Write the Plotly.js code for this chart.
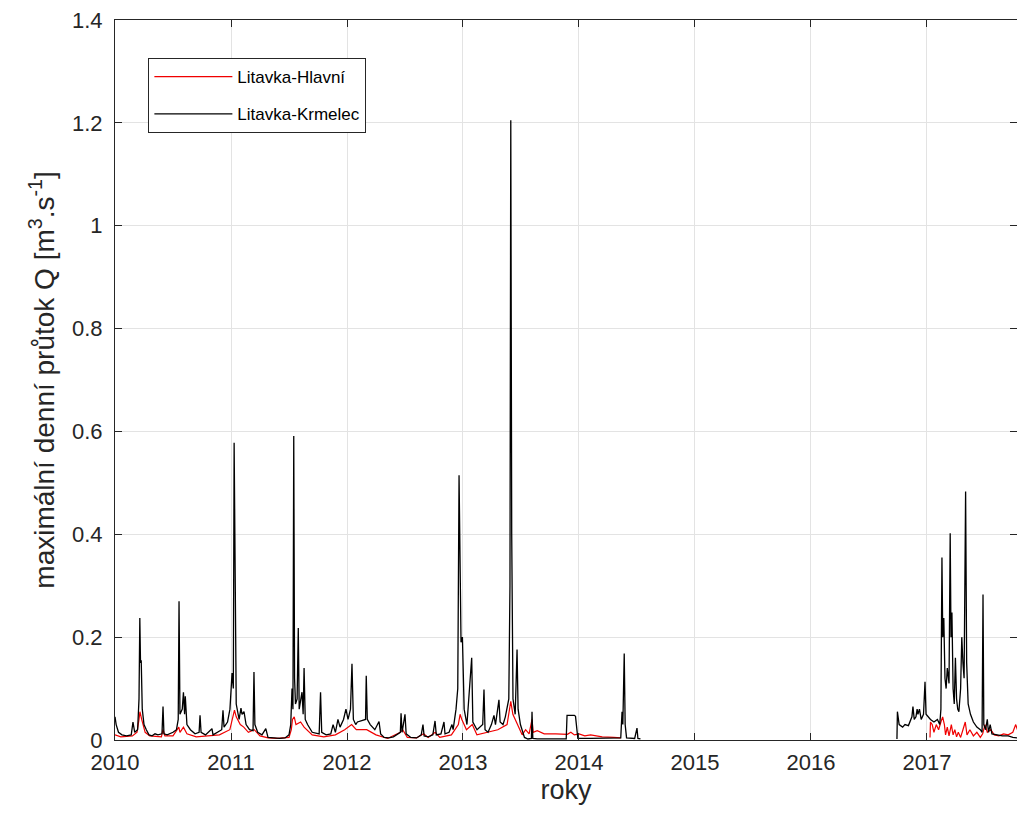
<!DOCTYPE html>
<html>
<head>
<meta charset="utf-8">
<script src="https://cdn.plot.ly/plotly-3.0.1.min.js"></script>
<style>
  html, body { margin: 0; padding: 0; background: #ffffff; }
  #chart { width: 1017px; height: 826px; }
</style>
</head>
<body>
<div id="chart"></div>
<script>
// Maximální denní průtok – Litavka, stanice Krmelec a Hlavní (rok jako desetinné číslo)

// Litavka-Krmelec
const krmelecYear = [
  2010.000, 2010.010, 2010.030, 2010.060, 2010.100, 2010.140, 2010.155, 2010.170, 2010.195, 2010.207,
  2010.214, 2010.220, 2010.226, 2010.235, 2010.250, 2010.270, 2010.293, 2010.320, 2010.345, 2010.370,
  2010.405, 2010.414, 2010.422, 2010.450, 2010.500, 2010.530, 2010.545, 2010.552, 2010.560, 2010.580,
  2010.590, 2010.600, 2010.606, 2010.620, 2010.650, 2010.690, 2010.725, 2010.733, 2010.742, 2010.780,
  2010.836, 2010.845, 2010.880, 2010.920, 2010.931, 2010.940, 2010.970, 2010.991, 2011.009, 2011.020,
  2011.027, 2011.034, 2011.045, 2011.070, 2011.086, 2011.095, 2011.112, 2011.130, 2011.160, 2011.190,
  2011.198, 2011.206, 2011.230, 2011.267, 2011.300, 2011.319, 2011.360, 2011.420, 2011.466, 2011.500,
  2011.515, 2011.526, 2011.534, 2011.541, 2011.548, 2011.556, 2011.570, 2011.580, 2011.588, 2011.600,
  2011.612, 2011.622, 2011.630, 2011.640, 2011.660, 2011.700, 2011.760, 2011.772, 2011.782, 2011.820,
  2011.860, 2011.880, 2011.900, 2011.922, 2011.940, 2011.970, 2011.991, 2012.009, 2012.030, 2012.043,
  2012.055, 2012.075, 2012.090, 2012.160, 2012.166, 2012.175, 2012.200, 2012.240, 2012.276, 2012.290,
  2012.320, 2012.360, 2012.400, 2012.460, 2012.466, 2012.475, 2012.500, 2012.510, 2012.550, 2012.600,
  2012.640, 2012.655, 2012.665, 2012.700, 2012.740, 2012.759, 2012.770, 2012.810, 2012.836, 2012.845,
  2012.880, 2012.905, 2012.915, 2012.940, 2012.955, 2012.966, 2012.975, 2012.983, 2012.995, 2013.010,
  2013.034, 2013.075, 2013.085, 2013.121, 2013.170, 2013.181, 2013.190, 2013.216, 2013.245, 2013.267,
  2013.280, 2013.310, 2013.320, 2013.345, 2013.365, 2013.379, 2013.395, 2013.405, 2013.412, 2013.420,
  2013.431, 2013.450, 2013.466, 2013.475, 2013.495, 2013.509, 2013.530, 2013.560, 2013.590, 2013.595,
  2013.602, 2013.640, 2013.750, 2013.890, 2013.897, 2013.905, 2013.960, 2013.970, 2013.990, 2014.100,
  2014.250, 2014.360, 2014.371, 2014.378, 2014.390, 2014.398, 2014.410, 2014.480, 2014.500, 2014.508,
  2014.530, 2014.540,
  2016.741, 2016.745, 2016.760, 2016.790, 2016.810, 2016.840, 2016.870, 2016.879, 2016.890, 2016.905,
  2016.915, 2016.922, 2016.935, 2016.950, 2016.970, 2016.983, 2016.992, 2017.010, 2017.030, 2017.060,
  2017.090, 2017.110, 2017.120, 2017.129, 2017.136, 2017.145, 2017.155, 2017.165, 2017.175, 2017.190,
  2017.200, 2017.207, 2017.215, 2017.225, 2017.235, 2017.245, 2017.255, 2017.265, 2017.275, 2017.290,
  2017.300, 2017.310, 2017.320, 2017.333, 2017.342, 2017.355, 2017.375, 2017.400, 2017.430, 2017.460,
  2017.475, 2017.483, 2017.490, 2017.505, 2017.520, 2017.530, 2017.545, 2017.560, 2017.600, 2017.650,
  2017.700, 2017.740, 2017.780
];
const krmelecQ = [
  0.045, 0.030, 0.015, 0.010, 0.008, 0.010, 0.035, 0.015, 0.020, 0.080,
  0.237, 0.150, 0.155, 0.060, 0.030, 0.020, 0.010, 0.008, 0.012, 0.010,
  0.012, 0.065, 0.012, 0.010, 0.015, 0.020, 0.040, 0.270, 0.050, 0.060,
  0.093, 0.050, 0.085, 0.030, 0.020, 0.012, 0.015, 0.048, 0.015, 0.010,
  0.022, 0.010, 0.015, 0.020, 0.058, 0.025, 0.035, 0.060, 0.130, 0.100,
  0.578, 0.300, 0.070, 0.040, 0.062, 0.050, 0.055, 0.030, 0.020, 0.018,
  0.132, 0.030, 0.015, 0.010, 0.022, 0.005, 0.004, 0.003, 0.004, 0.010,
  0.030, 0.100, 0.060, 0.591, 0.120, 0.070, 0.080, 0.218, 0.060, 0.080,
  0.093, 0.050, 0.140, 0.040, 0.030, 0.015, 0.012, 0.093, 0.015, 0.010,
  0.012, 0.030, 0.015, 0.040, 0.025, 0.040, 0.060, 0.040, 0.060, 0.148,
  0.040, 0.030, 0.035, 0.040, 0.125, 0.040, 0.030, 0.020, 0.036, 0.012,
  0.005, 0.004, 0.006, 0.015, 0.052, 0.015, 0.050, 0.012, 0.005, 0.004,
  0.010, 0.030, 0.008, 0.006, 0.010, 0.037, 0.010, 0.012, 0.035, 0.012,
  0.015, 0.030, 0.020, 0.060, 0.100, 0.515, 0.330, 0.190, 0.200, 0.060,
  0.030, 0.160, 0.035, 0.020, 0.030, 0.098, 0.020, 0.015, 0.030, 0.048,
  0.030, 0.078, 0.035, 0.030, 0.045, 0.060, 0.080, 0.300, 1.205, 0.400,
  0.080, 0.050, 0.176, 0.060, 0.030, 0.020, 0.005, 0.002, 0.003, 0.055,
  0.003, 0.002, 0.002, 0.002, 0.048, 0.048, 0.048, 0.046, 0.003, 0.003,
  0.003, 0.004, 0.055, 0.030, 0.168, 0.030, 0.004, 0.003, 0.023, 0.003,
  0.002, null,
  0.002, 0.055, 0.030, 0.025, 0.030, 0.028, 0.045, 0.065, 0.040, 0.045,
  0.060, 0.050, 0.060, 0.040, 0.050, 0.113, 0.050, 0.045, 0.040, 0.035,
  0.040, 0.030, 0.060, 0.355, 0.200, 0.237, 0.120, 0.100, 0.140, 0.110,
  0.402, 0.200, 0.248, 0.100, 0.070, 0.160, 0.080, 0.060, 0.055, 0.100,
  0.200, 0.150, 0.120, 0.483, 0.150, 0.070, 0.050, 0.035, 0.025, 0.020,
  0.015, 0.283, 0.030, 0.020, 0.040, 0.015, 0.030, 0.012, 0.010, 0.008,
  0.008, 0.005, 0.004
];

// Litavka-Hlavní
const hlavniYear = [
  2010.000, 2010.050, 2010.150, 2010.190, 2010.207, 2010.215, 2010.230, 2010.260, 2010.300, 2010.400,
  2010.414, 2010.430, 2010.500, 2010.550, 2010.560, 2010.590, 2010.620, 2010.700, 2010.800, 2010.900,
  2010.990, 2011.020, 2011.030, 2011.045, 2011.080, 2011.110, 2011.150, 2011.200, 2011.250, 2011.320,
  2011.400, 2011.500, 2011.520, 2011.530, 2011.545, 2011.560, 2011.600, 2011.630, 2011.700, 2011.800,
  2011.900, 2011.980, 2012.040, 2012.080, 2012.170, 2012.250, 2012.350, 2012.460, 2012.480, 2012.520,
  2012.600, 2012.660, 2012.700, 2012.760, 2012.800, 2012.900, 2012.960, 2012.975, 2012.990, 2013.030,
  2013.080, 2013.120, 2013.200, 2013.300, 2013.380, 2013.400, 2013.412, 2013.430, 2013.470, 2013.510,
  2013.540, 2013.570, 2013.595, 2013.605, 2013.640, 2013.700, 2013.800, 2013.900, 2013.930, 2013.960,
  2014.000, 2014.050, 2014.100, 2014.200, 2014.300, 2014.360, 2014.370,
  2017.026, 2017.030, 2017.045, 2017.060, 2017.080, 2017.100, 2017.120, 2017.135, 2017.150, 2017.160,
  2017.175, 2017.190, 2017.210, 2017.225, 2017.240, 2017.255, 2017.270, 2017.290, 2017.310, 2017.330,
  2017.345, 2017.370, 2017.400, 2017.430, 2017.460, 2017.480, 2017.500, 2017.520, 2017.550, 2017.580,
  2017.620, 2017.660, 2017.700, 2017.740, 2017.765, 2017.780
];
const hlavniQ = [
  0.010, 0.006, 0.008, 0.015, 0.040, 0.055, 0.040, 0.015, 0.008, 0.006,
  0.020, 0.008, 0.008, 0.025, 0.015, 0.025, 0.012, 0.006, 0.008, 0.010,
  0.020, 0.045, 0.058, 0.045, 0.030, 0.025, 0.015, 0.020, 0.008, 0.004,
  0.003, 0.005, 0.020, 0.040, 0.045, 0.030, 0.035, 0.025, 0.010, 0.006,
  0.010, 0.020, 0.030, 0.020, 0.020, 0.010, 0.003, 0.015, 0.020, 0.005,
  0.004, 0.012, 0.005, 0.015, 0.005, 0.010, 0.030, 0.050, 0.040, 0.020,
  0.030, 0.010, 0.015, 0.020, 0.030, 0.060, 0.075, 0.050, 0.030, 0.010,
  0.020, 0.012, 0.040, 0.015, 0.018, 0.012, 0.012, 0.011, 0.015, 0.010,
  0.012, 0.008, 0.010, 0.006, 0.005, 0.004, null,
  0.005, 0.035, 0.030, 0.015, 0.030, 0.020, 0.035, 0.045, 0.030, 0.010,
  0.025, 0.008, 0.030, 0.010, 0.020, 0.006, 0.015, 0.005, 0.020, 0.035,
  0.010, 0.020, 0.008, 0.015, 0.005, 0.012, 0.030, 0.015, 0.020, 0.010,
  0.008, 0.012, 0.010, 0.015, 0.030, 0.020
];

// Popisky os
const yearTicks = [2010, 2011, 2012, 2013, 2014, 2015, 2016, 2017];
const qTicks = [0, 0.2, 0.4, 0.6, 0.8, 1, 1.2, 1.4];

const axisColor = '#262626';
const gridColor = '#e3e3e3';
const fontFamily = '"Liberation Sans", Arial, Helvetica, sans-serif';

const traces = [
  {
    x: hlavniYear, y: hlavniQ, type: 'scatter', mode: 'lines',
    name: 'Litavka-Hlavní', legendgroup: 'hlavni',
    line: { color: '#f00000', width: 1.2 }
  },
  {
    x: krmelecYear, y: krmelecQ, type: 'scatter', mode: 'lines',
    name: 'Litavka-Krmelec', legendgroup: 'krmelec',
    line: { color: '#000000', width: 1.3 }
  }
];

// Černá řada leží nad červenou, legenda zachovává pořadí Hlavní, Krmelec
const layout = {
  width: 1017, height: 826,
  margin: { l: 115, r: 0, t: 20, b: 86 },
  paper_bgcolor: '#ffffff', plot_bgcolor: '#ffffff',
  font: { family: fontFamily, size: 22, color: axisColor },
  showlegend: true,
  legend: {
    x: 0.037, y: 0.947, xanchor: 'left', yanchor: 'top',
    bgcolor: '#ffffff', bordercolor: axisColor, borderwidth: 1,
    font: { family: fontFamily, size: 17, color: '#000000' },
    itemwidth: 78, tracegroupgap: 12, traceorder: 'grouped'
  },
  xaxis: {
    range: [2010, 2017.776],
    tickvals: yearTicks,
    ticktext: yearTicks.map(String),
    ticks: 'inside', ticklen: 7, tickcolor: axisColor,
    showline: true, linecolor: axisColor, linewidth: 1, mirror: 'ticks',
    showgrid: true, gridcolor: gridColor, gridwidth: 1,
    zeroline: false,
    ticklabelstandoff: 3,
    tickfont: { size: 22, color: axisColor },
    title: { text: 'roky', font: { size: 27, color: axisColor }, standoff: 3 }
  },
  yaxis: {
    range: [0, 1.4],
    tickvals: qTicks,
    ticktext: qTicks.map(String),
    ticks: 'inside', ticklen: 7, tickcolor: axisColor,
    showline: true, linecolor: axisColor, linewidth: 1, mirror: 'ticks',
    showgrid: true, gridcolor: gridColor, gridwidth: 1,
    zeroline: false,
    ticklabelstandoff: 7,
    tickfont: { size: 22, color: axisColor },
    title: {
      text: 'maximální denní průtok Q [m<sup>3</sup>.s<sup>-1</sup>]',
      font: { size: 28, color: axisColor }, standoff: 9
    }
  }
};

Plotly.newPlot('chart', traces, layout, { staticPlot: true, displayModeBar: false });
</script>
</body>
</html>
